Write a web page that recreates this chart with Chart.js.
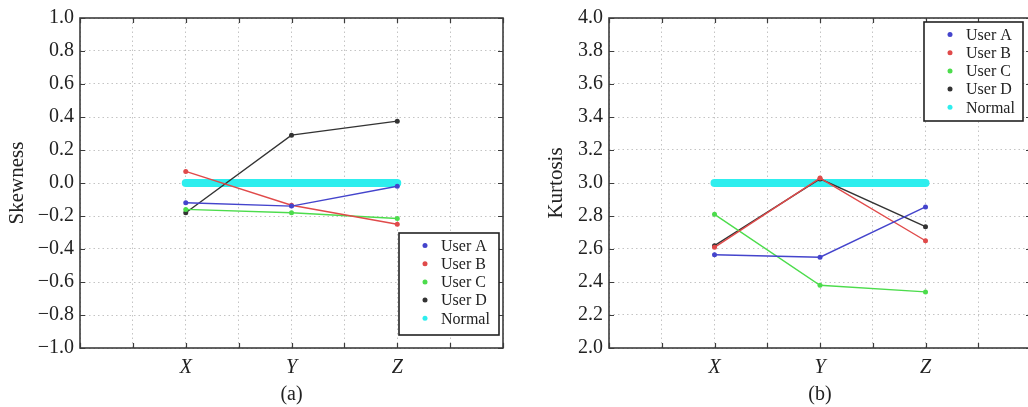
<!DOCTYPE html>
<html>
<head>
<meta charset="utf-8">
<script src="https://cdn.jsdelivr.net/npm/chart.js@4/dist/chart.umd.min.js"></script>
<style>
  html, body { margin: 0; padding: 0; background: #fff; overflow: hidden; }
  #myChartLinhaA { position: absolute; left: 0; top: 0; width: 520px; height: 407px; }
  #myChartLinhaB { position: absolute; left: 520px; top: 0; width: 530px; height: 407px; }
</style>
</head>
<body>
<div id="myChartLinhaA"><canvas id="myChartSkew"></canvas></div>
<div id="myChartLinhaB"><canvas id="myChartKurt"></canvas></div>
<script>
// -----------------------DADOS---------------------
const categorias = ['X', 'Y', 'Z'];
const posicoes = [1, 2, 3];
const usuarios = ['User A', 'User B', 'User C', 'User D', 'Normal'];

const skewUserA = [-0.12, -0.14, -0.02];
const skewUserB = [0.07, -0.135, -0.25];
const skewUserC = [-0.16, -0.18, -0.215];
const skewUserD = [-0.18, 0.29, 0.375];
const skewNormal = [0, 0, 0];

const kurtUserA = [2.565, 2.55, 2.855];
const kurtUserB = [2.61, 3.03, 2.65];
const kurtUserC = [2.81, 2.38, 2.34];
const kurtUserD = [2.62, 3.025, 2.735];
const kurtNormal = [3, 3, 3];

const xTicks = [0, 0.5, 1, 1.5, 2, 2.5, 3, 3.5, 4];
const skewTicks = [-1.0, -0.8, -0.6, -0.4, -0.2, 0.0, 0.2, 0.4, 0.6, 0.8, 1.0];
const kurtTicks = [2.0, 2.2, 2.4, 2.6, 2.8, 3.0, 3.2, 3.4, 3.6, 3.8, 4.0];

const cores = ['#4444cc', '#e04a4a', '#4cdc4c', '#333333', '#2eeeee'];
const fonte = "'Liberation Serif', 'Times New Roman', serif";

//---------------------------------------------------------------

function montarDatasets(series){
    return series.map((valores, i) => ({
        label: usuarios[i],
        data: valores.map((v, k) => ({x: posicoes[k], y: v})),
        borderColor: cores[i],
        backgroundColor: cores[i],
        borderWidth: i == 4 ? 8 : 1.4,
        borderCapStyle: 'round',
        pointRadius: i == 4 ? 0 : 2.5,
        pointBorderWidth: 0,
        tension: 0
    }))
}

function formatar(v){
    const t = Math.abs(v).toFixed(1)
    return v < -0.001 ? '\u2212' + t : t
}

// moldura, marcas internas e legenda
const moldura = {
    id: 'moldura',
    afterDraw(chart, args, opts){
        const {ctx, chartArea: a} = chart
        const x = chart.scales.x
        const y = chart.scales.y
        ctx.save()
        ctx.strokeStyle = '#3c3c3c'
        ctx.lineWidth = 1.2
        ctx.beginPath()
        x.ticks.forEach(t => {
            const px = Math.round(x.getPixelForValue(t.value)) + 0.5
            ctx.moveTo(px, a.bottom); ctx.lineTo(px, a.bottom - 5)
            ctx.moveTo(px, a.top); ctx.lineTo(px, a.top + 5)
        })
        y.ticks.forEach(t => {
            const py = Math.round(y.getPixelForValue(t.value)) + 0.5
            ctx.moveTo(a.left, py); ctx.lineTo(a.left + 5, py)
            ctx.moveTo(a.right, py); ctx.lineTo(a.right - 5, py)
        })
        ctx.stroke()
        ctx.lineWidth = 1.6
        ctx.strokeRect(a.left, a.top, a.width, a.height)

        // legenda
        const L = opts.caixa
        ctx.fillStyle = '#fff'
        ctx.fillRect(L.left, L.top, L.width, L.height)
        ctx.strokeStyle = '#222'
        ctx.lineWidth = 1.6
        ctx.strokeRect(L.left, L.top, L.width, L.height)
        ctx.font = '16px ' + fonte
        ctx.textBaseline = 'middle'
        chart.data.datasets.forEach((ds, i) => {
            const cy = L.top + 12.5 + i * 18.2
            ctx.fillStyle = ds.borderColor
            ctx.beginPath()
            ctx.arc(L.left + 26, cy, 2.5, 0, Math.PI * 2)
            ctx.fill()
            ctx.fillStyle = '#222'
            ctx.fillText(ds.label, L.left + 42, cy + 1)
        })
        ctx.restore()
    }
}

function graficoLinha(id, series, yTicks, titulo, letra, cfg){
    const ctx = document.getElementById(id)
    new Chart(ctx, {
        type: 'line',
        data: { datasets: montarDatasets(series) },
        plugins: [moldura],
        options: {
            responsive: true,
            maintainAspectRatio: false,
            animation: false,
            layout: { padding: { left: 0, top: 16, right: cfg.direita, bottom: 0 } },
            plugins: {
                legend: { display: false },
                tooltip: { enabled: false },
                moldura: { caixa: cfg.caixa }
            },
            scales: {
                x: {
                    type: 'linear',
                    min: 0,
                    max: 4,
                    afterBuildTicks: s => { s.ticks = xTicks.map(v => ({value: v})) },
                    afterFit: s => { s.height = 59 },
                    border: { display: false, dash: [1.5, 3] },
                    grid: { color: '#c4c4c4', lineWidth: 1, drawTicks: false },
                    ticks: {
                        autoSkip: false,
                        maxRotation: 0,
                        padding: 8,
                        color: '#222',
                        font: { family: fonte, size: 20, style: 'italic' },
                        callback: v => {
                            const k = posicoes.indexOf(v)
                            return k >= 0 ? categorias[k] : ''
                        }
                    },
                    title: {
                        display: true,
                        text: letra,
                        color: '#222',
                        padding: { top: 0, bottom: 0 },
                        font: { family: fonte, size: 20 }
                    }
                },
                y: {
                    min: yTicks[0],
                    max: yTicks[yTicks.length - 1],
                    afterBuildTicks: s => { s.ticks = yTicks.map(v => ({value: v})) },
                    afterFit: s => { s.width = cfg.esquerda },
                    border: { display: false, dash: [1.5, 3] },
                    grid: { color: '#c4c4c4', lineWidth: 1, drawTicks: false },
                    ticks: {
                        padding: 6,
                        color: '#222',
                        font: { family: fonte, size: 20 },
                        callback: v => formatar(v)
                    },
                    title: {
                        display: true,
                        text: titulo,
                        color: '#222',
                        padding: { top: cfg.tituloPad, bottom: 0 },
                        font: { family: fonte, size: 21 }
                    }
                }
            }
        }
    })
}

graficoLinha('myChartSkew',
    [skewUserA, skewUserB, skewUserC, skewUserD, skewNormal],
    skewTicks, 'Skewness', '(a)',
    { esquerda: 80, direita: 17, tituloPad: 5, caixa: { left: 399, top: 233, width: 100, height: 102 } })

graficoLinha('myChartKurt',
    [kurtUserA, kurtUserB, kurtUserC, kurtUserD, kurtNormal],
    kurtTicks, 'Kurtosis', '(b)',
    { esquerda: 89, direita: 19, tituloPad: 24, caixa: { left: 404, top: 22, width: 99, height: 99 } })
</script>
</body>
</html>
